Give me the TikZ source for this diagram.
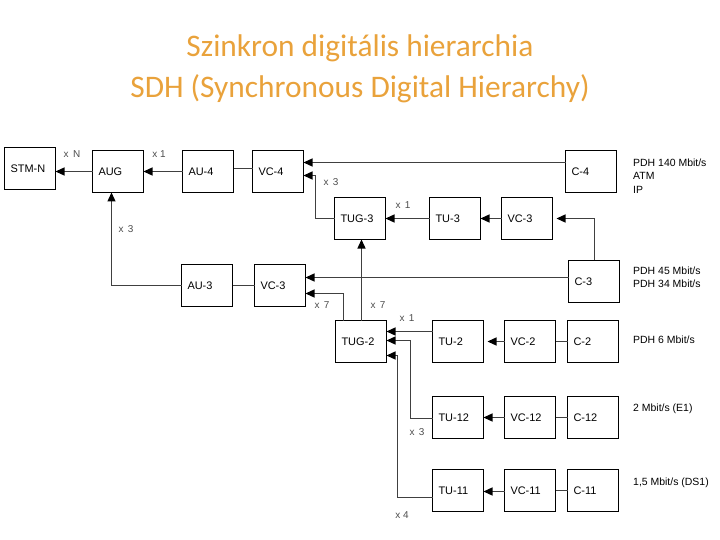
\documentclass[tikz,border=0pt]{standalone}
\usepackage{fontspec}
\setmainfont{Liberation Sans}
\newfontfamily\titlefont{Carlito}
\usetikzlibrary{arrows.meta,positioning}
\definecolor{titleorange}{HTML}{E9A23B}
\tikzset{
 box/.style={draw,line width=1.3bp,align=left,minimum height=42bp,outer sep=0pt,
             text width=39bp,inner xsep=6bp,font=\fontsize{11}{12}\selectfont},
 arrow/.style={-{Triangle[length=9bp,width=8bp,color=black]},line width=1.3bp,black!75},
 link/.style={line width=1.3bp,black!75},
 mult/.style={font=\fontsize{10}{11}\selectfont,text=black!70},
 side/.style={align=left,anchor=west,inner xsep=0pt,font=\fontsize{10.5}{13.5}\selectfont},
 heading/.style={anchor=base,text=titleorange,font=\titlefont\fontsize{31.5}{36}\selectfont}
}

\begin{document}
\begin{tikzpicture}[x=1bp,y=-1bp,node distance=21bp]
\useasboundingbox (0,0) rectangle (720,540);
% title
\node[heading] (title1) at (360,57) {Szinkron digitális hierarchia};
\node[heading] (title2) at (360,98) {SDH (Synchronous Digital Hierarchy)};
% top rows
\node[box] (stmn) at (30,168.5) {STM-N};
\node[box] (aug) at (118,171.5) {AUG};
\node[box] (au4) at (208,171.5) {AU-4};
\node[box] (vc4) at (278,171.5) {VC-4};
\node[box] (c4) at (591,171.5) {C-4};
\node[box] (tug3) at (360,218.5) {TUG-3};
\node[box] (tu3) at (455,218.5) {TU-3};
\node[box] (vc3r) at (527,218.5) {VC-3};
\node[box] (au3) at (207,285.5) {AU-3};
\node[box] (vc3l) at (280,285.5) {VC-3};
\node[box] (c3) at (594,281.5) {C-3};
% lower rows
\node[box] (tug2) at (361,341.5) {TUG-2};
\node[box] (tu2) at (458,341.5) {TU-2};
\node[box,right=of tu2] (vc2) {VC-2};
\node[box,right=12bp of vc2] (c2) {C-2};
\node[box] (tu12) at (458,417.5) {TU-12};
\node[box,right=of tu12] (vc12) {VC-12};
\node[box,right=12bp of vc12] (c12) {C-12};
\node[box] (tu11) at (458,490.5) {TU-11};
\node[box,right=of tu11] (vc11) {VC-11};
\node[box,right=12bp of vc11] (c11) {C-11};
% payloads
\node[side] (pdh140) at (633,176) {PDH 140 Mbit/s\\ATM\\IP};
\node[side] (pdh45) at (633,277.5) {PDH 45 Mbit/s\\PDH 34 Mbit/s};
\node[side] (pdh6) at (633,340) {PDH 6 Mbit/s};
\node[side] (e1) at (633,409) {2 Mbit/s (E1)};
\node[side] (ds1) at (633,483) {1,5 Mbit/s (DS1)};
% multipliers
\node[mult] (mN) at (72,154) {x\, N};
\node[mult] (m1a) at (159,154) {x 1};
\node[mult] (m3a) at (331,182) {x\, 3};
\node[mult] (m3b) at (126,229) {x\, 3};
\node[mult] (m1b) at (403,205) {x\, 1};
\node[mult] (m7a) at (322,305) {x\, 7};
\node[mult] (m7b) at (378,305) {x\, 7};
\node[mult] (m1c) at (407,318) {x\, 1};
\node[mult] (m3c) at (417,432) {x\, 3};
\node[mult] (m4) at (402,515) {x 4};
% connectors
\draw[arrow] (aug.west) -- (aug.west -| stmn.east);
\draw[arrow] (au4.west) -- (aug.east);
\draw[link] ([yshift=3bp]au4.east) -- ([yshift=3bp]au4.east -| vc4.west);
\draw[arrow] ([yshift=9bp]c4.west) -- ([yshift=9bp]c4.west -| vc4.east);
\draw[arrow] (tug3.west) -- ++(-19,0) |- ([yshift=-4bp]vc4.east);
\draw[arrow] (tu3.west) -- (tug3.east);
\draw[arrow] (vc3r.west) -- (tu3.east);
\draw[arrow] ([xshift=0.5bp]c3.north) |- ([xshift=4bp]vc3r.east);
\draw[arrow] ([yshift=4bp]c3.west) -- ([yshift=4bp]c3.west -| vc3l.east);
\draw[arrow] ([xshift=-17.5bp]tug2.north) |- ([yshift=-8bp]vc3l.east);
\draw[arrow] ([xshift=0.5bp]tug2.north) -- ([xshift=0.5bp]tug2.north |- tug3.south);
\draw[arrow] (au3.west) -| ([xshift=-6.5bp]aug.south);
\draw[link] (au3.east) -- (vc3l.west);
\draw[arrow] ([yshift=10bp]tu2.west) -- ([yshift=10bp]tu2.west -| tug2.east);
\draw[arrow] (vc2.west) -- ([xshift=4bp]tu2.east);
\draw[link] (c2.west) -- (vc2.east);
\draw[arrow] ([yshift=-1bp]tu12.west) -- ++(-22,0) |- ([yshift=1bp]tug2.east);
\draw[arrow] (vc12.west) -- (tu12.east);
\draw[link] (c12.west) -- (vc12.east);
\draw[arrow] ([yshift=-7bp]tu11.west) -- ++(-35,0) |- ([yshift=-14bp]tug2.east);
\draw[arrow] ([yshift=-1bp]vc11.west) -- ([yshift=-1bp]tu11.east);
\draw[link] (c11.west) -- (vc11.east);
\end{tikzpicture}
\end{document}
